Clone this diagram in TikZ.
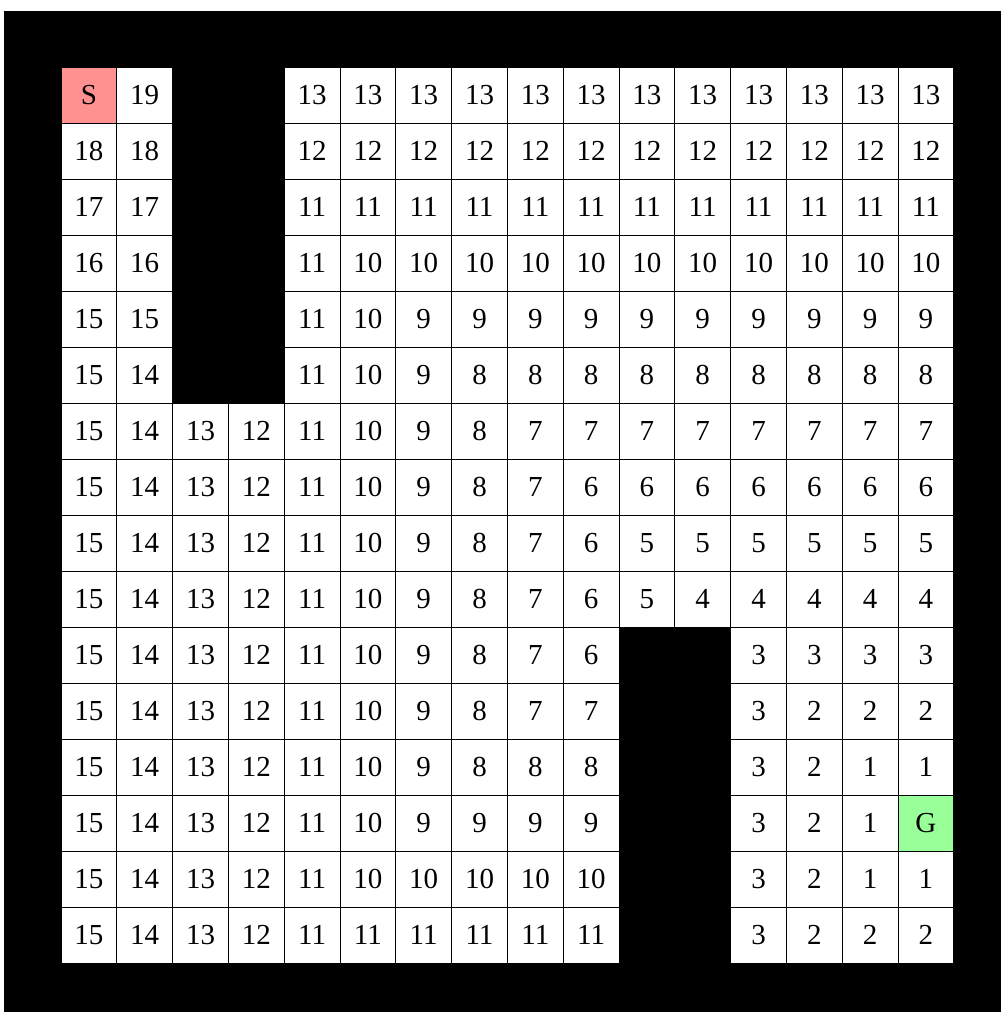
\documentclass[tikz,border=0pt]{standalone}
\usepackage{fontspec}
\setmainfont{Liberation Serif}
\usepackage{tikz}
\definecolor{startred}{RGB}{255, 145, 145}
\definecolor{goalgreen}{RGB}{153, 255, 153}

\tikzset{
  cell/.style={draw=black, line width=0.5pt, fill=white, inner sep=0pt, outer sep=0pt,
    minimum width=1.116cm, minimum height=1.12cm, font=\fontsize{16.5}{18}\selectfont},
  cell S/.style={fill=startred},
  cell G/.style={fill=goalgreen}
}

\begin{document}
\begin{tikzpicture}[x=0.02cm, y=-0.02cm]
    \def\cw{55.8}
    \def\ch{56}
    \def\wallmark{x}
    % Frame
    \useasboundingbox (0,0) rectangle (1001,1012);
    \fill[black] (4,11) rectangle (1001,1012);

    % Cells (x = wall)
    \foreach \rowvals [count=\r from 0] in {
        {S,19,x,x,13,13,13,13,13,13,13,13,13,13,13,13},
        {18,18,x,x,12,12,12,12,12,12,12,12,12,12,12,12},
        {17,17,x,x,11,11,11,11,11,11,11,11,11,11,11,11},
        {16,16,x,x,11,10,10,10,10,10,10,10,10,10,10,10},
        {15,15,x,x,11,10,9,9,9,9,9,9,9,9,9,9},
        {15,14,x,x,11,10,9,8,8,8,8,8,8,8,8,8},
        {15,14,13,12,11,10,9,8,7,7,7,7,7,7,7,7},
        {15,14,13,12,11,10,9,8,7,6,6,6,6,6,6,6},
        {15,14,13,12,11,10,9,8,7,6,5,5,5,5,5,5},
        {15,14,13,12,11,10,9,8,7,6,5,4,4,4,4,4},
        {15,14,13,12,11,10,9,8,7,6,x,x,3,3,3,3},
        {15,14,13,12,11,10,9,8,7,7,x,x,3,2,2,2},
        {15,14,13,12,11,10,9,8,8,8,x,x,3,2,1,1},
        {15,14,13,12,11,10,9,9,9,9,x,x,3,2,1,G},
        {15,14,13,12,11,10,10,10,10,10,x,x,3,2,1,1},
        {15,14,13,12,11,11,11,11,11,11,x,x,3,2,2,2}} {
      \foreach \v [count=\c from 0] in \rowvals {
        \edef\cur{\v}
        \ifx\cur\wallmark\else
          \node[cell, cell \v/.try] (c-\r-\c) at ({61+\cw*(\c+0.5)}, {67+\ch*(\r+0.5)}) {\v};
        \fi
      }
    }
\end{tikzpicture}
\end{document}
